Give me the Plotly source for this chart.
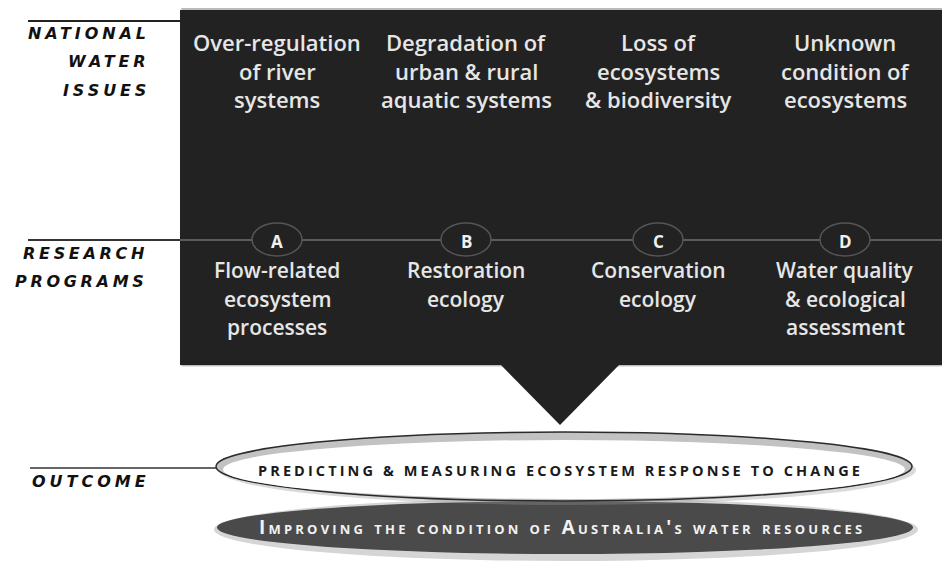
import plotly.graph_objects as go

# ---- content ----
issue_lines = [
    ["Over-regulation", "of river", "systems"],
    ["Degradation of", "urban & rural", "aquatic systems"],
    ["Loss of", "ecosystems", "& biodiversity"],
    ["Unknown", "condition of", "ecosystems"],
]
program_letters = ["A", "B", "C", "D"]
program_lines = [
    ["Flow-related", "ecosystem", "processes"],
    ["Restoration", "ecology"],
    ["Conservation", "ecology"],
    ["Water quality", "& ecological", "assessment"],
]
issues_label = ["NATIONAL", "WATER", "ISSUES"]
programs_label = ["RESEARCH", "PROGRAMS"]
outcome_label = ["OUTCOME"]
outcome_texts = [
    "PREDICTING & MEASURING ECOSYSTEM RESPONSE TO CHANGE",
    "Improving the condition of Australia's water resources",
]

# ---- layout geometry ----
W, H = 950, 563
PAD = 8  # default page margin of the html body
col_x = [277, 466, 658, 845]
box = dict(x0=180, x1=943, y0=10, y1=365)
BOX = "#222222"
FONT = "Open Sans"
LABEL_FONT = "DejaVu Sans"

shapes = []
ann = []

# box shadow
shapes.append(dict(type="rect", x0=box["x0"] + 2, x1=box["x1"] + 6, y0=box["y0"] - 4, y1=box["y1"] + 2,
                   fillcolor="rgba(0,0,0,0.10)", line=dict(width=0), layer="below"))
shapes.append(dict(type="rect", x0=box["x0"] + 1, x1=box["x1"] + 3, y0=box["y0"] - 2, y1=box["y1"] + 1,
                   fillcolor="rgba(0,0,0,0.18)", line=dict(width=0), layer="below"))
# main dark box
shapes.append(dict(type="rect", **box, fillcolor=BOX, line=dict(width=0), layer="below"))
# pointer triangle
shapes.append(dict(type="path", path="M 500 364 L 620 364 L 560 425 Z", fillcolor=BOX,
                   line=dict(width=0), layer="below"))

# left guide lines
shapes.append(dict(type="line", x0=28, x1=180, y0=21, y1=21, line=dict(color="#222", width=2)))
shapes.append(dict(type="line", x0=28, x1=180, y0=240, y1=240, line=dict(color="#333", width=2)))
shapes.append(dict(type="line", x0=180, x1=943, y0=240, y1=240, line=dict(color="#5c5c5c", width=2)))
shapes.append(dict(type="line", x0=30, x1=218, y0=468, y1=468, line=dict(color="#333", width=1.5)))

# letter ellipses
for cx in col_x:
    shapes.append(dict(type="circle", x0=cx - 25, x1=cx + 25, y0=223, y1=256,
                       fillcolor=BOX, line=dict(color="#555555", width=1.5)))

# outcome ellipses
shapes.append(dict(type="circle", x0=214, x1=918, y0=498, y1=561,
                   fillcolor="rgba(150,150,150,0.40)", line=dict(width=0)))
shapes.append(dict(type="circle", x0=217, x1=913, y0=501, y1=554,
                   fillcolor="#4a4a4a", line=dict(width=0)))
shapes.append(dict(type="circle", x0=219, x1=916, y0=435, y1=505,
                   fillcolor="rgba(150,150,150,0.35)", line=dict(width=0)))
shapes.append(dict(type="circle", x0=216, x1=912, y0=432, y1=501,
                   fillcolor="#c2c2c2", line=dict(color="#2a2a2a", width=1.5)))
shapes.append(dict(type="circle", x0=223, x1=905, y0=440, y1=499,
                   fillcolor="#ffffff", line=dict(width=0)))


def add_text(x, y, text, size, color, xanchor="center", weight="normal", style="normal",
             variant="normal", spacing=0, family=FONT):
    if spacing:
        text = f'<span style="letter-spacing:{spacing}px">{text}</span>'
    ann.append(dict(x=x, y=y, xref="x", yref="y", text=text, showarrow=False,
                    xanchor=xanchor, yanchor="middle",
                    font=dict(family=family, size=size, color=color, weight=weight,
                              style=style, variant=variant)))


# issues text
for cx, lines in zip(col_x, issue_lines):
    for i, ln in enumerate(lines):
        add_text(cx, 42 + i * 28.5, ln, 22, "#e6e6e6", weight=600)

# program letters and text
for cx, letter in zip(col_x, program_letters):
    add_text(cx, 241, letter, 17, "#f0f0f0", weight=700)
for cx, lines in zip(col_x, program_lines):
    for i, ln in enumerate(lines):
        add_text(cx, 270 + i * 28.5, ln, 21, "#e6e6e6", weight=600)

# left row labels
for i, t in enumerate(issues_label):
    add_text(152, 33 + i * 28.5, t, 16, "#111", xanchor="right", weight=700, style="italic",
             spacing=3.9, family=LABEL_FONT)
for i, t in enumerate(programs_label):
    add_text(150, 253 + i * 28, t, 16, "#111", xanchor="right", weight=700, style="italic",
             spacing=3.7, family=LABEL_FONT)
add_text(152, 481, outcome_label[0], 16, "#111", xanchor="right", weight=700, style="italic",
         spacing=4.0, family=LABEL_FONT)

# outcome texts
add_text(560, 470, outcome_texts[0], 14.5, "#1a1a1a", weight=700, spacing=3.1)
add_text(562, 527, outcome_texts[1], 19, "#f2f2f2", weight=700, variant="small-caps", spacing=3.2)

fig = go.Figure()
fig.update_layout(
    width=W - PAD, height=H - PAD,
    margin=dict(l=0, r=0, t=0, b=0),
    paper_bgcolor="white", plot_bgcolor="white",
    xaxis=dict(range=[PAD, W], visible=False, fixedrange=True),
    yaxis=dict(range=[H, PAD], visible=False, fixedrange=True),
    shapes=shapes, annotations=ann, showlegend=False,
)
fig.write_html("out.html")
